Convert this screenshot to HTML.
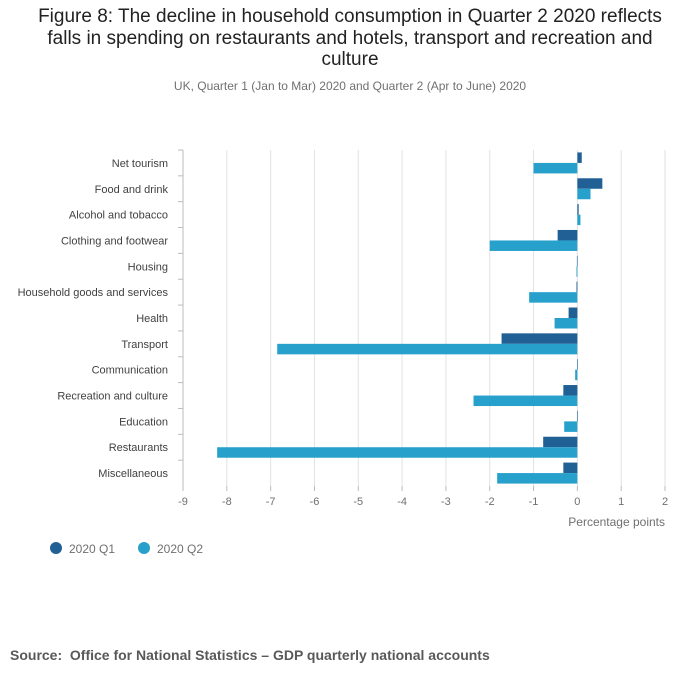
<!DOCTYPE html>
<html><head><meta charset="utf-8">
<style>
body{margin:0;background:#fff;font-family:"Liberation Sans",sans-serif;}
#wrap{position:relative;width:700px;height:682px;overflow:hidden;}
.title{position:absolute;left:30px;width:640px;top:6px;text-align:center;font-size:19px;line-height:21.5px;color:#222;}
.sub{position:absolute;left:0;width:700px;top:79px;text-align:center;font-size:12px;color:#707070;}
.src{position:absolute;left:10px;top:647px;font-size:14px;font-weight:bold;color:#595959;}
</style></head><body>
<div id="wrap">
<div class="title">Figure 8: The decline in household consumption in Quarter 2 2020 reflects falls in spending on restaurants and hotels, transport and recreation and culture</div>
<div class="sub">UK, Quarter 1 (Jan to Mar) 2020 and Quarter 2 (Apr to June) 2020</div>
<svg id="chart" width="700" height="600" style="position:absolute;left:0;top:0"></svg>
<div class="src">Source:&nbsp; Office for National Statistics – GDP quarterly national accounts</div>
</div>
<script>
const categories=["Net tourism","Food and drink","Alcohol and tobacco","Clothing and footwear","Housing","Household goods and services","Health","Transport","Communication","Recreation and culture","Education","Restaurants","Miscellaneous"];
const q1Values=[0.1,0.57,0.03,-0.45,-0.01,-0.02,-0.2,-1.73,0,-0.32,0,-0.78,-0.32];
const q2Values=[-1.0,0.3,0.07,-2.0,-0.02,-1.1,-0.52,-6.85,-0.05,-2.37,-0.3,-8.22,-1.83];
const xTicks=[-9,-8,-7,-6,-5,-4,-3,-2,-1,0,1,2];
const seriesNames=["2020 Q1","2020 Q2"];
const colors=["#206095","#27a0cc"];
const svg=document.getElementById('chart');const NS="http://www.w3.org/2000/svg";
function mk(t,a,p){const e=document.createElementNS(NS,t);for(const k in a)e.setAttribute(k,a[k]);(p||svg).appendChild(e);return e;}
const x0=183,x1=665,yTop=150,yBot=486;
const xs=v=>x0+(v-(-9))/(2-(-9))*(x1-x0);
const band=(yBot-yTop)/categories.length;
const ys=i=>yTop+band*i;
xTicks.forEach(t=>{
 const g=mk('line',{x1:xs(t),x2:xs(t),y1:yTop,y2:yBot,stroke:'#e2e2e2','stroke-width':1});
 
 const tk=mk('line',{x1:xs(t),x2:xs(t),y1:yBot,y2:yBot+5,stroke:'#bbb'});
 
 const l=mk('text',{x:xs(t),y:yBot+19,'text-anchor':'middle','font-size':11,fill:'#707070'});l.textContent=t;
 
});
const ax=mk('line',{x1:x0,x2:x0,y1:yTop,y2:yBot,stroke:'#bbb'});

categories.forEach((c,i)=>{
 const cy=ys(i)+band/2;
 const tk=mk('line',{x1:x0-5,x2:x0,y1:ys(i),y2:ys(i),stroke:'#bbb'});
 
 const l=mk('text',{x:168,y:cy+4,'text-anchor':'end','font-size':11,fill:'#414042'});l.textContent=c;
 
 [q1Values[i],q2Values[i]].forEach((v,s)=>{
  const a=xs(Math.min(0,v)),b=xs(Math.max(0,v));
  const r=mk('rect',{x:a,y:cy-10.5+s*10.5,width:Math.max(b-a,0.6),height:10.5,fill:colors[s]});
  
 });
});
const xt=mk('text',{x:665,y:526,'text-anchor':'end','font-size':12,fill:'#707070'});xt.textContent='Percentage points';

seriesNames.forEach((n,s)=>{
 const lx=56+s*88;
 const c=mk('circle',{cx:lx,cy:548,r:6,fill:colors[s]});
 
 const t=mk('text',{x:lx+13,y:553,'font-size':12,fill:'#707070'});t.textContent=n;
 
});
</script>
</body></html>
